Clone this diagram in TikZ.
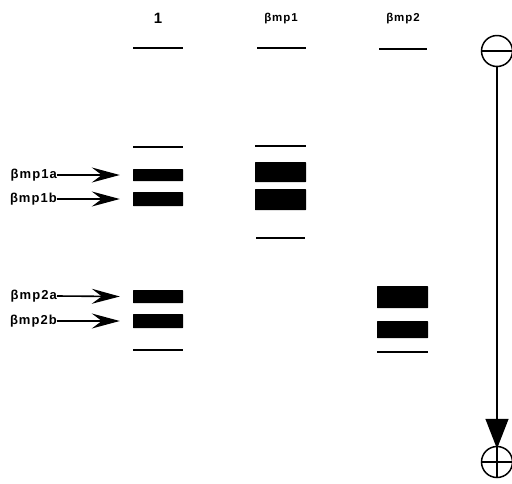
\documentclass[tikz,border=0pt]{standalone}
\usepackage{fontspec}
\setmainfont{Liberation Sans}
\newfontfamily\labfont[LetterSpace=8]{Liberation Sans Bold}
\usetikzlibrary{arrows.meta}
\begin{document}
\begin{tikzpicture}[x=1pt,y=-1pt,
  band/.style={fill=black,draw=none,inner sep=0pt,rounded corners=0.5pt},
  thin/.style={line width=2pt},
  lab/.style={font=\labfont\fontsize{13}{14}\selectfont,inner sep=0pt},
  hdr/.style={font=\labfont\fontsize{11.5}{13}\selectfont,inner sep=0pt},
  ptr/.style={line width=1.6pt,-{Stealth[length=28pt,width=15pt,inset=10pt]}},
  pole/.style={circle,draw,line width=1.5pt,minimum size=31pt,inner sep=0pt}]
\useasboundingbox (0,0) rectangle (512,483);
% headers
\node[font=\bfseries\fontsize{15}{17}\selectfont,inner sep=0pt] (h1) at (158,18) {1};
\node[hdr] (h2) at (281,19) {βmp1};
\node[hdr] (h3) at (403,19) {βmp2};
% lane 1
\draw[thin] (133,48) -- (183,48);
\draw[thin] (133,147) -- (183,147);
\node[band,minimum width=50pt,minimum height=12pt] (b1a) at (158,175) {};
\node[band,minimum width=50pt,minimum height=14pt] (b1b) at (158,199) {};
\node[band,minimum width=50pt,minimum height=13pt] (b2a) at (158,296.5) {};
\node[band,minimum width=50pt,minimum height=14pt] (b2b) at (158,321) {};
\draw[thin] (133,350) -- (183,350);
% lane 2
\draw[thin] (257,48) -- (306,48);
\draw[thin] (255,146) -- (306,146);
\node[band,minimum width=51pt,minimum height=20pt] (c1) at (280.5,172) {};
\node[band,minimum width=51pt,minimum height=21pt] (c2) at (280.5,199.5) {};
\draw[thin] (256,238) -- (305,238);
% lane 3
\draw[thin] (379,49) -- (427,49);
\node[band,minimum width=51pt,minimum height=22pt] (d1) at (402.5,297) {};
\node[band,minimum width=51pt,minimum height=17pt] (d2) at (402.5,329.5) {};
\draw[thin] (377,352) -- (428,352);
% labels and arrows
\node[lab,anchor=east] (l1a) at (57,175) {βmp1a};
\node[lab,anchor=east] (l1b) at (57,199) {βmp1b};
\node[lab,anchor=east] (l2a) at (57,296) {βmp2a};
\node[lab,anchor=east] (l2b) at (57,321) {βmp2b};
\draw[ptr] (l1a.east) -- ([xshift=-13pt]b1a.west);
\draw[ptr] (l1b.east) -- ([xshift=-13pt]b1b.west);
\draw[ptr] (l2a.east) -- ([xshift=-13pt]b2a.west);
\draw[ptr] (l2b.east) -- ([xshift=-13pt]b2b.west);
% electrodes
\node[pole] (neg) at (497,51) {};
\draw[line width=1.5pt] (neg.west) -- (neg.east);
\node[pole] (pos) at (497,462) {};
\draw[line width=1.5pt] (pos.west) -- (pos.east) (pos.north) -- (pos.south);
\draw[line width=1.5pt,-{Triangle[length=30pt,width=23pt]}] (neg.south) -- ([yshift=-3pt]pos.north);
\end{tikzpicture}
\end{document}
